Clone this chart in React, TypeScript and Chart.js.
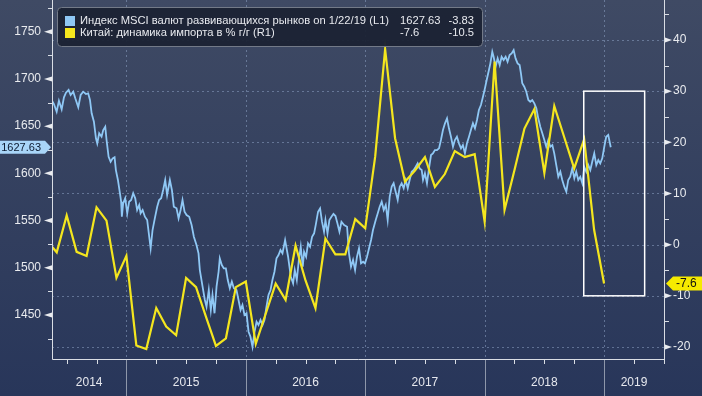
import React, { useEffect, useRef } from "react";
import { Chart, registerables } from "chart.js";

Chart.register(...registerables);

const FONT = '"Liberation Sans", Arial, sans-serif';

// ---- China imports, % y/y (monthly, right axis) ----
const importMonths = [
  "2014-04", "2014-05", "2014-06", "2014-07", "2014-08", "2014-09", "2014-10", "2014-11", "2014-12",
  "2015-01", "2015-02", "2015-03", "2015-04", "2015-05", "2015-06", "2015-07", "2015-08", "2015-09", "2015-10", "2015-11", "2015-12",
  "2016-01", "2016-02", "2016-03", "2016-04", "2016-05", "2016-06", "2016-07", "2016-08", "2016-09", "2016-10", "2016-11", "2016-12",
  "2017-01", "2017-02", "2017-03", "2017-04", "2017-05", "2017-06", "2017-07", "2017-08", "2017-09", "2017-10", "2017-11", "2017-12",
  "2018-01", "2018-02", "2018-03", "2018-04", "2018-05", "2018-06", "2018-07", "2018-08", "2018-09", "2018-10", "2018-11", "2018-12",
];
const importGrowth = [
  0.8, -1.5, 5.7, -1.4, -2.2, 7.3, 4.7, -6.5, -2.2,
  -19.7, -20.4, -12.4, -16.0, -17.7, -6.5, -8.3, -14.1, -19.8, -18.3, -8.3, -7.2,
  -19.4, -13.5, -7.6, -10.8, -0.2, -7.0, -12.4, 1.2, -1.9, -1.9, 5.0, 3.2,
  17.2, 38.2, 20.8, 12.3, 14.5, 17.1, 11.3, 13.8, 18.3, 17.1, 17.7, 4.5,
  35.8, 6.8, 14.6, 22.7, 26.5, 14.0, 27.1, 21.0, 14.9, 20.6, 2.9, -7.6,
];

// ---- MSCI EM currency index (left axis), dates as fractional years ----
const msciDates = [
  2014.374, 2014.393, 2014.416, 2014.435, 2014.458, 2014.477, 2014.494, 2014.516, 2014.533, 2014.555,
  2014.572, 2014.597, 2014.617, 2014.638, 2014.661, 2014.680, 2014.695, 2014.709, 2014.728, 2014.745,
  2014.756, 2014.772, 2014.792, 2014.806, 2014.823, 2014.834, 2014.851, 2014.868, 2014.885, 2014.901,
  2014.912, 2014.929, 2014.946, 2014.956, 2014.962, 2014.973, 2014.990, 2015.007, 2015.023, 2015.040,
  2015.057, 2015.074, 2015.090, 2015.107, 2015.119, 2015.136, 2015.155, 2015.174, 2015.191, 2015.203,
  2015.219, 2015.238, 2015.258, 2015.274, 2015.291, 2015.308, 2015.325, 2015.341, 2015.364, 2015.381,
  2015.397, 2015.420, 2015.437, 2015.454, 2015.470, 2015.487, 2015.504, 2015.526, 2015.546, 2015.565,
  2015.587, 2015.604, 2015.615, 2015.638, 2015.657, 2015.671, 2015.690, 2015.707, 2015.721, 2015.738,
  2015.755, 2015.772, 2015.782, 2015.799, 2015.816, 2015.833, 2015.849, 2015.866, 2015.883, 2015.900,
  2015.922, 2015.939, 2015.956, 2015.972, 2015.989, 2016.006, 2016.023, 2016.039, 2016.056, 2016.073,
  2016.090, 2016.106, 2016.123, 2016.140, 2016.156, 2016.173, 2016.190, 2016.207, 2016.223, 2016.240,
  2016.257, 2016.274, 2016.290, 2016.307, 2016.329, 2016.354, 2016.377, 2016.396, 2016.410, 2016.427,
  2016.444, 2016.460, 2016.477, 2016.488, 2016.505, 2016.521, 2016.538, 2016.555, 2016.572, 2016.588,
  2016.605, 2016.622, 2016.638, 2016.655, 2016.667, 2016.684, 2016.700, 2016.717, 2016.734, 2016.751,
  2016.767, 2016.784, 2016.801, 2016.823, 2016.848, 2016.864, 2016.881, 2016.898, 2016.915, 2016.931,
  2016.948, 2016.965, 2016.982, 2016.998, 2017.015, 2017.032, 2017.049, 2017.065, 2017.088, 2017.105,
  2017.121, 2017.138, 2017.155, 2017.172, 2017.188, 2017.205, 2017.222, 2017.238, 2017.255, 2017.272,
  2017.289, 2017.305, 2017.322, 2017.339, 2017.356, 2017.372, 2017.389, 2017.406, 2017.423, 2017.439,
  2017.456, 2017.473, 2017.484, 2017.500, 2017.517, 2017.534, 2017.551, 2017.567, 2017.584, 2017.601,
  2017.618, 2017.634, 2017.651, 2017.668, 2017.685, 2017.701, 2017.718, 2017.735, 2017.751, 2017.768,
  2017.785, 2017.802, 2017.818, 2017.835, 2017.852, 2017.869, 2017.885, 2017.902, 2017.919, 2017.936,
  2017.952, 2017.969, 2017.986, 2018.003, 2018.019, 2018.036, 2018.048, 2018.064, 2018.075, 2018.092,
  2018.109, 2018.126, 2018.142, 2018.159, 2018.176, 2018.192, 2018.209, 2018.226, 2018.243, 2018.259,
  2018.276, 2018.293, 2018.304, 2018.315, 2018.332, 2018.349, 2018.366, 2018.382, 2018.399, 2018.416,
  2018.433, 2018.449, 2018.466, 2018.483, 2018.500, 2018.516, 2018.533, 2018.550, 2018.567, 2018.583,
  2018.600, 2018.617, 2018.634, 2018.650, 2018.667, 2018.684, 2018.700, 2018.717, 2018.734, 2018.751,
  2018.767, 2018.784, 2018.801, 2018.818, 2018.834, 2018.851, 2018.868, 2018.885, 2018.901, 2018.918,
  2018.935, 2018.952, 2018.968, 2018.985, 2019.002, 2019.018, 2019.035, 2019.056,
];
const msciValues = [
  1677.7, 1673.4, 1665.3, 1676.9, 1667.8, 1680.5, 1685.4, 1688.3, 1683.0, 1686.5,
  1679.5, 1670.0, 1683.0, 1686.5, 1684.0, 1684.8, 1677.7, 1663.6, 1654.7, 1637.1,
  1631.8, 1642.4, 1638.8, 1645.9, 1649.4, 1635.3, 1617.6, 1612.3, 1615.9, 1617.0,
  1603.5, 1593.0, 1578.9, 1570.0, 1554.1, 1568.3, 1573.6, 1557.7, 1570.0, 1571.8,
  1578.9, 1573.6, 1561.2, 1566.5, 1557.7, 1561.2, 1554.1, 1550.6, 1532.9, 1520.6,
  1540.0, 1552.4, 1564.7, 1571.8, 1573.6, 1582.4, 1593.0, 1577.1, 1593.0, 1582.4,
  1564.7, 1563.0, 1552.4, 1561.2, 1571.8, 1559.4, 1555.9, 1554.1, 1545.3, 1532.9,
  1524.1, 1515.3, 1497.6, 1480.0, 1465.9, 1458.8, 1476.5, 1455.3, 1471.2, 1451.8,
  1480.0, 1495.8, 1510.0, 1502.9, 1499.4, 1499.4, 1487.0, 1478.3, 1485.3, 1478.3,
  1476.5, 1465.9, 1455.3, 1460.6, 1450.0, 1451.8, 1432.3, 1427.0, 1416.4, 1432.3,
  1442.9, 1439.4, 1444.7, 1439.4, 1444.7, 1458.8, 1471.2, 1476.5, 1487.0, 1495.8,
  1510.0, 1513.5, 1518.8, 1515.3, 1529.4, 1511.7, 1490.5, 1483.6, 1497.6, 1487.0,
  1508.2, 1522.3, 1501.1, 1517.0, 1511.7, 1525.9, 1522.3, 1532.9, 1536.5, 1547.1,
  1559.4, 1563.0, 1548.8, 1538.2, 1550.6, 1536.5, 1550.6, 1554.1, 1557.0, 1554.8,
  1547.1, 1538.2, 1548.8, 1545.3, 1543.5, 1515.3, 1501.1, 1508.2, 1497.6, 1511.7,
  1520.6, 1504.7, 1506.4, 1504.7, 1511.7, 1520.6, 1529.4, 1540.0, 1550.6, 1557.7,
  1564.7, 1570.0, 1561.2, 1566.5, 1550.6, 1575.3, 1585.9, 1589.5, 1580.6, 1571.8,
  1585.9, 1589.5, 1584.2, 1593.0, 1584.2, 1593.0, 1601.7, 1603.5, 1607.0, 1610.6,
  1605.3, 1603.5, 1593.0, 1600.0, 1589.5, 1605.3, 1619.4, 1621.2, 1624.7, 1624.7,
  1626.5, 1635.3, 1645.9, 1653.0, 1658.3, 1647.7, 1638.8, 1628.2, 1635.3, 1638.8,
  1631.8, 1626.5, 1630.0, 1621.2, 1631.8, 1638.8, 1645.9, 1653.0, 1647.7, 1656.5,
  1667.1, 1672.4, 1681.2, 1690.4, 1699.9, 1709.4, 1716.5, 1728.8, 1723.5, 1712.9,
  1721.8, 1714.7, 1723.5, 1720.0, 1723.5, 1718.2, 1725.3, 1727.1, 1730.6, 1721.8,
  1716.5, 1714.7, 1705.9, 1695.4, 1691.8, 1686.5, 1677.7, 1675.9, 1677.7, 1674.2,
  1668.9, 1658.3, 1649.4, 1642.4, 1635.3, 1628.2, 1635.3, 1628.2, 1630.0, 1621.2,
  1608.8, 1596.4, 1601.7, 1593.0, 1585.9, 1580.6, 1593.0, 1596.4, 1605.3, 1594.8,
  1601.7, 1593.0, 1596.4, 1589.5, 1607.0, 1601.7, 1608.8, 1603.5, 1612.3, 1621.2,
  1608.8, 1614.1, 1610.6, 1615.9, 1628.2, 1638.8, 1640.6, 1627.63,
];

// ---- axes ----
const yearLabels = ["2014", "2015", "2016", "2017", "2018", "2019"];
const quarterTicks = [
  2014.5, 2014.75, 2015, 2015.25, 2015.5, 2015.75, 2016, 2016.25, 2016.5, 2016.75,
  2017, 2017.25, 2017.5, 2017.75, 2018, 2018.25, 2018.5, 2018.75, 2019, 2019.25, 2019.5,
];
const leftTicks = [1450, 1500, 1550, 1600, 1650, 1700, 1750];
const leftMinorTicks = [1425, 1475, 1525, 1575, 1625, 1675, 1725, 1775];
const rightTicks = [-20, -10, 0, 10, 20, 30, 40];
const rightMinorTicks = [-15, -5, 5, 15, 25, 35, 45];
const xRange = [2014.377, 2019.502];
const leftRange = [1403.4, 1783.6];
const rightRange = [-22.35, 47.82];

// ---- legend / annotations ----
const legendLabels = [
  "Индекс MSCI валют развивающихся рынков on 1/22/19 (L1)",
  "Китай: динамика импорта в % г/г (R1)",
];
const legendLast = ["1627.63", "-7.6"];
const legendChange = ["-3.83", "-10.5"];
const highlightX = [2018.83, 2019.34];
const highlightY = [30, -10];

const MSCI_COLOR = "#8fc8f5";
const IMPORT_COLOR = "#f4e61e";

function monthEnd(s: string): number {
  const [y, m] = s.split("-").map(Number);
  return y + m / 12;
}

const decorPlugin = {
  id: "decor",
  beforeDraw(chart: any) {
    const { ctx, width, height } = chart;
    const g = ctx.createLinearGradient(0, 0, 0, height);
    g.addColorStop(0, "#3f4a64");
    g.addColorStop(1, "#28365a");
    ctx.save();
    ctx.fillStyle = g;
    ctx.fillRect(0, 0, width, height);
    ctx.restore();
  },
  beforeDatasetsDraw(chart: any) {
    const { ctx, chartArea: a, scales } = chart;
    const x = scales.x;
    const yR = scales.yR;
    ctx.save();
    ctx.strokeStyle = "rgba(140,160,195,0.55)";
    ctx.lineWidth = 1;
    ctx.setLineDash([2, 3]);
    rightTicks.forEach((v) => {
      const py = Math.round(yR.getPixelForValue(v)) + 0.5;
      ctx.beginPath();
      ctx.moveTo(a.left, py);
      ctx.lineTo(a.right, py);
      ctx.stroke();
    });
    yearLabels.slice(1).forEach((lab) => {
      const px = Math.round(x.getPixelForValue(Number(lab))) + 0.5;
      ctx.beginPath();
      ctx.moveTo(px, a.top);
      ctx.lineTo(px, a.bottom);
      ctx.stroke();
    });
    ctx.restore();
  },
  afterDatasetsDraw(chart: any) {
    const { ctx, chartArea: a, scales, width, height } = chart;
    const x = scales.x;
    const yL = scales.yL;
    const yR = scales.yR;
    ctx.save();

    // highlight rectangle
    const rx0 = x.getPixelForValue(highlightX[0]);
    const rx1 = x.getPixelForValue(highlightX[1]);
    const ry0 = yR.getPixelForValue(highlightY[0]);
    const ry1 = yR.getPixelForValue(highlightY[1]);
    ctx.strokeStyle = "#ffffff";
    ctx.lineWidth = 1.5;
    ctx.strokeRect(rx0, ry0, rx1 - rx0, ry1 - ry0);

    // axis lines
    ctx.strokeStyle = "#d9dde4";
    ctx.lineWidth = 1;
    ctx.beginPath();
    ctx.moveTo(a.left + 0.5, 0);
    ctx.lineTo(a.left + 0.5, a.bottom + 0.5);
    ctx.lineTo(a.right + 0.5, a.bottom + 0.5);
    ctx.lineTo(a.right + 0.5, 0);
    ctx.stroke();

    ctx.fillStyle = "#e9ebef";
    ctx.font = `12px ${FONT}`;
    ctx.textBaseline = "middle";

    // left axis
    ctx.textAlign = "right";
    leftTicks.forEach((v) => {
      const py = yL.getPixelForValue(v);
      ctx.beginPath();
      ctx.moveTo(a.left, py - 2.5);
      ctx.lineTo(a.left, py + 2.5);
      ctx.lineTo(a.left - 8, py);
      ctx.closePath();
      ctx.fill();
      ctx.fillText(String(v), a.left - 11, py);
    });
    leftMinorTicks.forEach((v) => {
      const py = Math.round(yL.getPixelForValue(v)) + 0.5;
      ctx.beginPath();
      ctx.moveTo(a.left, py);
      ctx.lineTo(a.left - 4, py);
      ctx.stroke();
    });

    // right axis
    ctx.textAlign = "left";
    rightTicks.forEach((v) => {
      const py = yR.getPixelForValue(v);
      ctx.beginPath();
      ctx.moveTo(a.right + 1, py - 2.5);
      ctx.lineTo(a.right + 1, py + 2.5);
      ctx.lineTo(a.right + 8, py);
      ctx.closePath();
      ctx.fill();
      ctx.fillText(String(v), a.right + 9, py);
    });
    rightMinorTicks.forEach((v) => {
      const py = Math.round(yR.getPixelForValue(v)) + 0.5;
      ctx.beginPath();
      ctx.moveTo(a.right, py);
      ctx.lineTo(a.right + 5, py);
      ctx.stroke();
    });

    // bottom axis
    quarterTicks.forEach((v) => {
      const px = Math.round(x.getPixelForValue(v)) + 0.5;
      ctx.beginPath();
      ctx.moveTo(px, a.bottom);
      ctx.lineTo(px, a.bottom + 5);
      ctx.stroke();
    });
    ctx.strokeStyle = "#8e97aa";
    yearLabels.slice(1).forEach((lab) => {
      const px = Math.round(x.getPixelForValue(Number(lab))) + 0.5;
      ctx.beginPath();
      ctx.moveTo(px, a.bottom + 1);
      ctx.lineTo(px, height);
      ctx.stroke();
    });
    ctx.textAlign = "center";
    ctx.fillStyle = "#e6e8ee";
    yearLabels.forEach((lab) => {
      const y0 = Math.max(Number(lab), x.min);
      const y1 = Math.min(Number(lab) + 1, x.max);
      const cx = (x.getPixelForValue(y0) + x.getPixelForValue(y1)) / 2;
      ctx.fillText(lab, cx, a.bottom + 24);
    });

    // legend
    const lx = 57, ly = 7, lw = 425, lh = 39;
    ctx.beginPath();
    if (ctx.roundRect) ctx.roundRect(lx + 0.5, ly + 0.5, lw, lh, 4);
    else ctx.rect(lx + 0.5, ly + 0.5, lw, lh);
    ctx.fillStyle = "rgba(27,35,52,0.95)";
    ctx.fill();
    ctx.strokeStyle = "#737a88";
    ctx.lineWidth = 1;
    ctx.stroke();
    ctx.font = `11.2px ${FONT}`;
    const colors = [MSCI_COLOR, IMPORT_COLOR];
    const rows = [21, 33];
    legendLabels.forEach((t, i) => {
      ctx.fillStyle = colors[i];
      ctx.fillRect(65, rows[i] - 5, 10, 10);
      ctx.fillStyle = "#e8eaef";
      ctx.textAlign = "left";
      ctx.fillText(t, 80, rows[i]);
      ctx.fillText(legendLast[i], 400, rows[i]);
      ctx.textAlign = "right";
      ctx.fillText(legendChange[i], 474, rows[i]);
    });

    // last-value tags
    const lastM = msciValues[msciValues.length - 1];
    const ty = yL.getPixelForValue(lastM);
    ctx.beginPath();
    ctx.moveTo(-2, ty - 6.5);
    ctx.lineTo(45, ty - 6.5);
    ctx.lineTo(a.left - 1, ty);
    ctx.lineTo(45, ty + 6.5);
    ctx.lineTo(-2, ty + 6.5);
    ctx.closePath();
    ctx.fillStyle = "#a9d5f8";
    ctx.fill();
    ctx.fillStyle = "#0c1a30";
    ctx.font = `11px ${FONT}`;
    ctx.textAlign = "right";
    ctx.fillText(lastM.toFixed(2), 41, ty + 0.5);

    const lastI = importGrowth[importGrowth.length - 1];
    const ry = yR.getPixelForValue(lastI);
    ctx.beginPath();
    ctx.moveTo(a.right + 2, ry);
    ctx.lineTo(a.right + 9, ry - 7);
    ctx.lineTo(width + 2, ry - 7);
    ctx.lineTo(width + 2, ry + 7);
    ctx.lineTo(a.right + 9, ry + 7);
    ctx.closePath();
    ctx.fillStyle = "#f6ea00";
    ctx.fill();
    ctx.fillStyle = "#111111";
    ctx.font = `12px ${FONT}`;
    ctx.textAlign = "left";
    ctx.fillText(String(lastI), a.right + 12, ry + 0.5);

    ctx.restore();
  },
};

export default function App() {
  const canvasRef = useRef<HTMLCanvasElement | null>(null);

  useEffect(() => {
    document.body.style.margin = "0";
    const canvas = canvasRef.current;
    if (!canvas) return;
    const importPoints = importMonths.map((m, i) => ({ x: monthEnd(m), y: importGrowth[i] }));
    const msciPoints = msciDates.map((d, i) => ({ x: d, y: msciValues[i] }));
    const chart = new Chart(canvas, {
      type: "line",
      data: {
        datasets: [
          {
            label: legendLabels[1],
            data: importPoints,
            yAxisID: "yR",
            borderColor: IMPORT_COLOR,
            borderWidth: 2.2,
            pointRadius: 0,
            tension: 0,
          },
          {
            label: legendLabels[0],
            data: msciPoints,
            yAxisID: "yL",
            borderColor: MSCI_COLOR,
            borderWidth: 1.8,
            pointRadius: 0,
            tension: 0,
          },
        ],
      },
      options: {
        animation: false,
        responsive: false,
        devicePixelRatio: 1,
        parsing: false as any,
        layout: { padding: { left: 52, right: 38, top: 0, bottom: 37 } },
        plugins: { legend: { display: false }, tooltip: { enabled: false } },
        scales: {
          x: { type: "linear", min: xRange[0], max: xRange[1], display: false },
          yL: { type: "linear", position: "left", min: leftRange[0], max: leftRange[1], display: false },
          yR: { type: "linear", position: "right", min: rightRange[0], max: rightRange[1], display: false },
        },
      },
      plugins: [decorPlugin],
    });
    return () => chart.destroy();
  }, []);

  return (
    <div style={{ width: 702, height: 396, overflow: "hidden" }}>
      <canvas ref={canvasRef} width={702} height={396} style={{ display: "block" }} />
    </div>
  );
}
